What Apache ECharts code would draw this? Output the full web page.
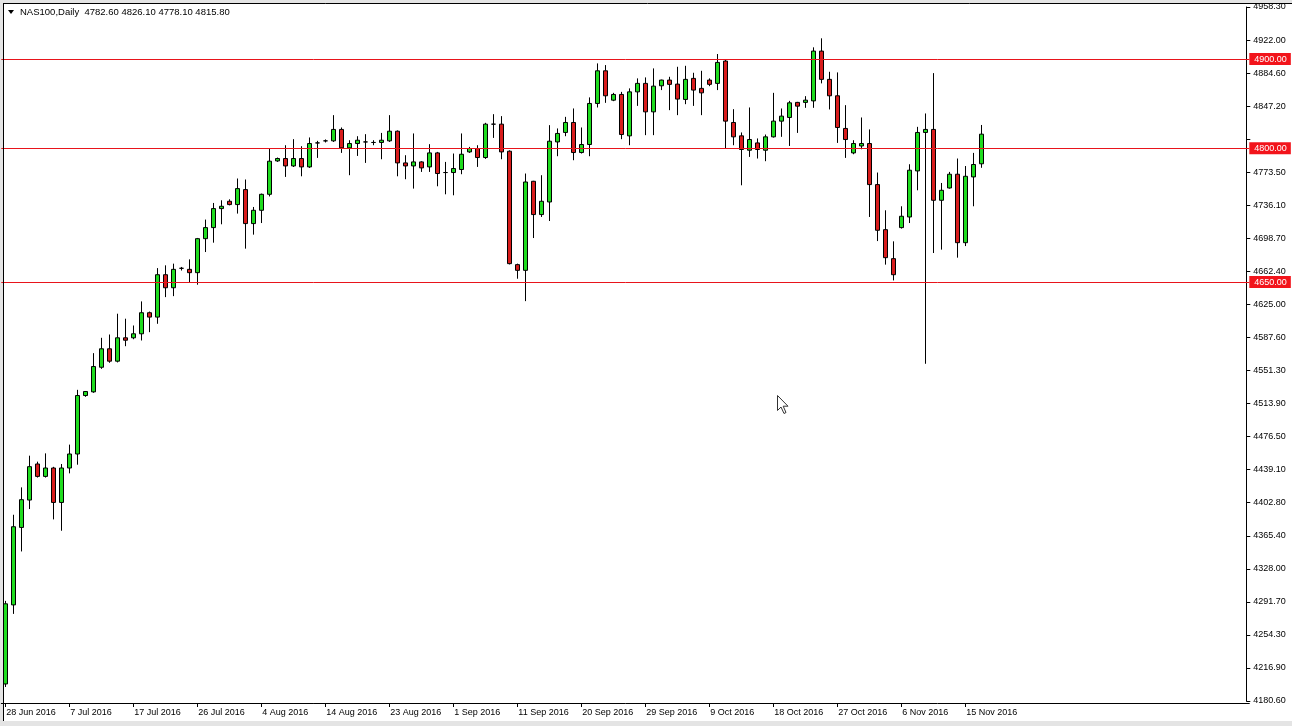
<!DOCTYPE html>
<html>
<head>
<meta charset="utf-8">
<script src="https://cdn.jsdelivr.net/npm/echarts@6/dist/echarts.min.js"></script>
<style>
html,body{margin:0;padding:0;background:#fff;}
#chart{width:1292px;height:726px;}
</style>
</head>
<body>
<div id="chart"></div>
<script>
// ---- data ----
const dates = [
'28 Jun 2016','29 Jun 2016','30 Jun 2016','1 Jul 2016','3 Jul 2016','4 Jul 2016','5 Jul 2016','6 Jul 2016',
'7 Jul 2016','8 Jul 2016','10 Jul 2016','11 Jul 2016','12 Jul 2016','13 Jul 2016','14 Jul 2016','15 Jul 2016',
'17 Jul 2016','18 Jul 2016','19 Jul 2016','20 Jul 2016','21 Jul 2016','22 Jul 2016','24 Jul 2016','25 Jul 2016',
'26 Jul 2016','27 Jul 2016','28 Jul 2016','29 Jul 2016','31 Jul 2016','1 Aug 2016','2 Aug 2016','3 Aug 2016',
'4 Aug 2016','5 Aug 2016','7 Aug 2016','8 Aug 2016','9 Aug 2016','10 Aug 2016','11 Aug 2016','12 Aug 2016',
'14 Aug 2016','15 Aug 2016','16 Aug 2016','17 Aug 2016','18 Aug 2016','19 Aug 2016','21 Aug 2016','22 Aug 2016',
'23 Aug 2016','24 Aug 2016','25 Aug 2016','26 Aug 2016','28 Aug 2016','29 Aug 2016','30 Aug 2016','31 Aug 2016',
'1 Sep 2016','2 Sep 2016','4 Sep 2016','5 Sep 2016','6 Sep 2016','7 Sep 2016','8 Sep 2016','9 Sep 2016',
'11 Sep 2016','12 Sep 2016','13 Sep 2016','14 Sep 2016','15 Sep 2016','16 Sep 2016','18 Sep 2016','19 Sep 2016',
'20 Sep 2016','21 Sep 2016','22 Sep 2016','23 Sep 2016','25 Sep 2016','26 Sep 2016','27 Sep 2016','28 Sep 2016',
'29 Sep 2016','30 Sep 2016','2 Oct 2016','3 Oct 2016','4 Oct 2016','5 Oct 2016','6 Oct 2016','7 Oct 2016',
'9 Oct 2016','10 Oct 2016','11 Oct 2016','12 Oct 2016','13 Oct 2016','14 Oct 2016','16 Oct 2016','17 Oct 2016',
'18 Oct 2016','19 Oct 2016','20 Oct 2016','21 Oct 2016','23 Oct 2016','24 Oct 2016','25 Oct 2016','26 Oct 2016',
'27 Oct 2016','28 Oct 2016','30 Oct 2016','31 Oct 2016','1 Nov 2016','2 Nov 2016','3 Nov 2016','4 Nov 2016',
'6 Nov 2016','7 Nov 2016','8 Nov 2016','9 Nov 2016','10 Nov 2016','11 Nov 2016','13 Nov 2016','14 Nov 2016',
'15 Nov 2016','16 Nov 2016','17 Nov 2016'
];
const openP = [
4199.7,4288.3,4375.1,4405.8,4446.2,4432.3,4441.7,4403.1,4441.7,4457.4,4522.9,4527.0,4554.6,4575.3,4561.4,4587.6,
4587.6,4592.1,4615.7,4610.8,4658.3,4643.7,4665.5,4664.3,4660.6,4698.7,4711.1,4732.4,4740.6,4736.9,4753.7,4715.6,
4730.5,4748.4,4785.8,4788.5,4780.2,4788.5,4779.1,4806.0,4808.3,4808.3,4821.1,4800.4,4805.3,4807.1,4806.5,4806.5,
4808.3,4819.1,4783.6,4780.2,4784.7,4779.1,4794.8,4772.8,4772.8,4776.2,4795.9,4799.7,4789.6,4827.0,4827.0,4796.7,
4669.6,4663.2,4763.0,4725.7,4739.8,4807.1,4817.7,4828.9,4795.2,4804.2,4850.2,4886.8,4853.9,4860.3,4813.9,4863.2,
4872.7,4840.8,4870.0,4876.4,4871.9,4854.7,4878.3,4867.1,4876.4,4872.7,4897.7,4828.9,4813.9,4797.8,4806.0,4797.8,
4812.8,4830.4,4834.5,4851.4,4851.4,4853.1,4908.9,4877.2,4858.8,4822.2,4794.8,4802.6,4805.3,4759.3,4708.8,4676.3,
4711.1,4723.0,4774.6,4817.7,4821.1,4741.7,4755.5,4770.9,4694.2,4767.9,4782.6
];
const highP = [
4292.8,4389.3,4420.0,4455.5,4448.8,4458.1,4443.0,4446.2,4467.9,4529.3,4528.0,4570.4,4587.6,4591.3,4614.6,4609.0,
4601.4,4628.4,4617.0,4665.7,4668.8,4670.7,4667.0,4675.5,4699.5,4720.1,4738.7,4741.7,4742.8,4766.1,4765.0,4734.2,
4749.2,4799.7,4789.6,4803.4,4810.2,4802.3,4812.1,4808.3,4809.9,4837.1,4823.3,4809.0,4813.5,4815.8,4809.0,4817.2,
4837.1,4820.0,4792.2,4816.6,4785.5,4804.6,4795.9,4784.7,4794.1,4816.6,4801.5,4803.4,4828.5,4838.2,4836.0,4797.7,
4670.7,4771.7,4763.5,4769.8,4825.9,4822.2,4835.2,4844.6,4823.3,4857.0,4895.1,4893.2,4862.1,4863.2,4867.1,4878.3,
4879.4,4889.5,4876.9,4880.1,4891.3,4892.4,4884.6,4886.8,4878.3,4905.6,4899.0,4843.8,4817.7,4845.7,4811.0,4815.4,
4862.1,4844.6,4853.1,4852.0,4858.4,4913.1,4923.2,4885.7,4885.0,4848.3,4809.0,4834.5,4821.1,4772.8,4730.5,4695.7,
4735.0,4782.1,4824.0,4839.0,4884.2,4761.1,4773.5,4788.5,4780.1,4794.8,4826.1
];
const lowP = [
4196.3,4278.2,4348.2,4395.7,4431.0,4431.0,4384.1,4371.4,4435.7,4445.4,4521.5,4526.0,4552.8,4559.6,4560.0,4578.2,
4586.0,4584.6,4593.9,4603.3,4633.2,4634.3,4663.0,4650.0,4647.1,4683.7,4694.2,4714.8,4736.0,4726.8,4687.5,4703.2,
4716.2,4746.0,4784.7,4767.9,4779.0,4768.6,4778.0,4789.2,4806.5,4807.1,4794.8,4769.8,4791.4,4783.6,4803.4,4787.7,
4807.1,4768.6,4765.3,4754.8,4773.5,4773.5,4757.4,4748.4,4747.3,4770.9,4794.8,4779.1,4788.1,4811.6,4787.7,4669.8,
4653.8,4628.7,4699.4,4723.0,4718.5,4791.1,4813.5,4786.6,4794.1,4791.1,4845.7,4850.9,4852.8,4810.2,4803.4,4847.5,
4814.7,4814.7,4865.2,4842.7,4837.1,4849.4,4847.5,4837.1,4869.6,4865.2,4799.7,4803.4,4758.5,4790.3,4788.5,4785.5,
4812.0,4812.8,4802.6,4817.2,4845.3,4845.3,4872.7,4843.5,4806.0,4789.2,4793.3,4798.9,4723.0,4696.0,4669.6,4651.9,
4710.0,4716.2,4752.9,4558.5,4682.6,4686.4,4754.8,4677.4,4690.4,4735.0,4778.1
];
const closeP = [
4289.5,4375.9,4406.2,4443.2,4432.3,4441.7,4403.1,4441.7,4457.4,4522.9,4527.4,4555.4,4575.3,4561.4,4587.6,4584.9,
4592.1,4615.7,4610.8,4658.3,4643.7,4664.3,4665.5,4660.6,4698.7,4711.1,4732.4,4735.0,4736.9,4754.8,4715.6,4730.5,
4748.4,4785.5,4788.5,4780.2,4788.5,4779.1,4805.3,4806.0,4808.3,4821.1,4800.4,4805.3,4809.0,4807.1,4806.5,4809.0,
4819.1,4783.6,4780.2,4784.7,4778.0,4794.8,4771.7,4772.8,4777.3,4793.3,4799.7,4789.6,4827.0,4827.0,4795.9,4670.7,
4663.2,4762.2,4725.7,4740.6,4807.9,4816.6,4828.9,4795.2,4804.2,4850.2,4886.8,4858.8,4860.3,4815.4,4863.2,4872.7,
4840.8,4869.6,4876.4,4871.6,4855.1,4877.2,4865.2,4862.1,4871.6,4896.2,4830.4,4812.8,4798.6,4809.8,4798.6,4812.8,
4830.4,4836.0,4850.9,4847.2,4853.9,4908.9,4877.2,4858.8,4823.3,4809.8,4805.3,4805.3,4759.3,4708.1,4677.4,4658.3,
4723.8,4775.4,4817.7,4821.1,4741.7,4752.9,4770.9,4694.2,4768.6,4781.8,4815.8
];
const levels = [4900, 4800, 4650];
const yTickLabels = ['4180.60','4216.90','4254.30','4291.70','4328.00','4365.40','4402.80','4439.10','4476.50',
  '4513.90','4551.30','4587.60','4625.00','4662.40','4698.70','4736.10','4773.50','4810.90','4847.20','4884.60',
  '4922.00','4958.30'];
const yMin = 4180.6, yMax = 4958.3;
const titleText = 'NAS100,Daily  4782.60 4826.10 4778.10 4815.80';

// ---- build ----
const FONT = 'Liberation Sans, Arial, sans-serif';
const emptySlots = 33;
const axisCats = dates.concat(new Array(emptySlots).fill(''));
const candles = dates.map((d, i) => [openP[i], closeP[i], lowP[i], highP[i]]);
const lastClose = closeP[closeP.length - 1];
const yStep = (yMax - yMin) / (yTickLabels.length - 1);
const hiddenTick = '4810.90';
const every8 = (idx, val) => idx % 8 === 0 && val !== '';

const chart = echarts.init(document.getElementById('chart'), null, {renderer: 'canvas'});
chart.setOption({
  animation: false,
  backgroundColor: '#e4e4e4',
  textStyle: {fontFamily: FONT},
  grid: {left: 1.3, top: 7, width: axisCats.length * 8, height: 694, containLabel: false},
  xAxis: {
    type: 'category', data: axisCats, boundaryGap: true, offset: 2,
    axisLine: {show: true, lineStyle: {color: '#000', width: 1}},
    axisTick: {show: true, interval: every8, alignWithLabel: true, length: 4, lineStyle: {color: '#000'}},
    axisLabel: {interval: every8, align: 'left', margin: 5, color: '#000', fontSize: 9, fontFamily: FONT, padding: [0, 0, 0, 1]},
    splitLine: {show: false}
  },
  yAxis: {
    type: 'value', position: 'right', min: yMin, max: yMax, interval: yStep, offset: -3,
    axisLine: {show: true, lineStyle: {color: '#000', width: 1}},
    axisTick: {show: true, length: 4, lineStyle: {color: '#000'}},
    axisLabel: {
      margin: 7, color: '#000', fontSize: 9, fontFamily: FONT,
      formatter: v => {
        const s = yTickLabels[Math.round((v - yMin) / yStep)] || '';
        return s === hiddenTick ? '' : s;
      }
    },
    splitLine: {show: false}
  },
  series: [{
    type: 'candlestick',
    data: candles,
    barWidth: 4,
    itemStyle: {
      color: '#1fdc1f', color0: '#d81c1c',
      borderColor: '#000', borderColor0: '#000', borderWidth: 1
    },
    markLine: {
      symbol: 'none', silent: true, animation: false,
      lineStyle: {color: '#e8141b', width: 1, type: 'solid'},
      label: {
        position: 'end', distance: 0, color: '#fff', backgroundColor: '#f2141b',
        padding: [2, 4, 1, 5], fontSize: 9, fontFamily: FONT,
        formatter: p => Number(p.value).toFixed(2)
      },
      data: levels.map(v => ({yAxis: v})).concat([{
        yAxis: lastClose, lineStyle: {opacity: 0},
        label: {backgroundColor: '#000', color: '#fff'}
      }])
    }
  }],
  graphic: [
    {type: 'rect', z: -100, silent: true, shape: {x: 3, y: 3, width: 1289, height: 718}, style: {fill: '#fff'}},
    {type: 'line', z: 100, silent: true, shape: {x1: 3.5, y1: 3, x2: 3.5, y2: 721}, style: {stroke: '#000', lineWidth: 1}},
    {type: 'line', z: 100, silent: true, shape: {x1: 3, y1: 3.5, x2: 1292, y2: 3.5}, style: {stroke: '#000', lineWidth: 1}},
    {type: 'polygon', z: 100, silent: true, shape: {points: [[8, 10], [14, 10], [11, 14]]}, style: {fill: '#000'}},
    {type: 'text', z: 100, silent: true, left: 20, top: 7, style: {text: titleText, fill: '#000', font: '9.5px ' + FONT}},
    {type: 'polygon', z: 100, silent: true,
     shape: {points: [[777.5, 395.5], [777.5, 410.5], [781, 407], [784, 413.5], [786, 412.5], [783.2, 406.2], [788, 406.2]]},
     style: {fill: '#fff', stroke: '#333', lineWidth: 1}}
  ]
});
</script>
</body>
</html>
